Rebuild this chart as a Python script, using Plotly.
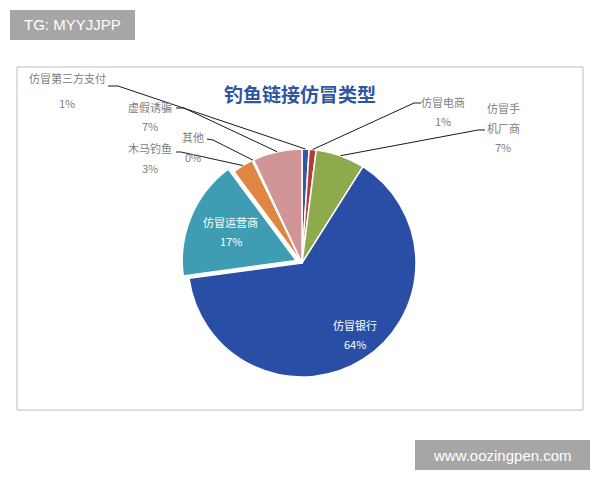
import math
import plotly.graph_objects as go

# ---- data ----
categories = ["仿冒第三方支付", "仿冒电商", "仿冒手机厂商", "仿冒银行", "仿冒运营商", "木马钓鱼", "其他", "虚假诱骗"]
label_rows = [["仿冒第三方支付"], ["仿冒电商"], ["仿冒手", "机厂商"], ["仿冒银行"], ["仿冒运营商"],
              ["木马钓鱼"], ["其他"], ["虚假诱骗"]]
values = [1, 1, 7, 64, 17, 3, 0.2, 7]
colors = ["#3557A0", "#B23C3C", "#8EAA4C", "#2A4EA6", "#3E9DB2", "#DE8642", "#7E62A2", "#D19595"]
pulls = [0, 0, 0, 0, 0.055, 0, 0, 0]

W, H = 600, 480
OFF = 8                              # page body margin of the browser
CX, CY, R = 302, 263, 114            # pie centre / radius in screen pixels
half = R * (1 + max(pulls))

def px(x):
    return (x - OFF) / W

def py(y):
    return 1 - (y - OFF) / H

fig = go.Figure()
fig.add_trace(go.Pie(
    labels=categories, values=values, sort=False, direction="clockwise",
    rotation=0, pull=pulls, textinfo="none", hoverinfo="label+percent",
    marker=dict(colors=colors, line=dict(color="white", width=1.5)),
    domain=dict(x=[px(CX - half), px(CX + half)], y=[py(CY + half), py(CY - half)]),
    showlegend=False,
))

total = sum(values)
pcts = [f"{round(v / total * 100):d}%" for v in values]
cum = 0
mids = []
for v in values:
    mids.append((cum + v / 2) / total * 2 * math.pi)
    cum += v

def edge(i, rr=1.0):
    a = mids[i]
    extra = pulls[i] * R
    return (CX + (R * rr + extra) * math.sin(a), CY - (R * rr + extra) * math.cos(a))

annotations = []
shapes = []

def text_at(x, y, t, size=11, color="#808080"):
    annotations.append(dict(x=px(x), y=py(y), xref="paper", yref="paper", text=t, showarrow=False,
                            font=dict(size=size, color=color, family="Noto Sans CJK SC"),
                            xanchor="center", yanchor="middle"))

# outside labels: (index, first label row centre, pct centre, leader start, elbow)
outside = [
    (0, (67, 78), (67, 103), (108, 86), (118, 86)),
    (7, (150, 107), (150, 126), (176, 108), (184, 108)),
    (6, (193, 137), (193, 157), (207, 139), (213, 140)),
    (5, (150, 148), (150, 168), (176, 152), (181, 152)),
    (1, (443, 102), (443, 121), (421, 103), (414, 103)),
    (2, (503, 108), (503, 147), (485, 130), (478, 130)),
]
for i, lc, pc, s, e in outside:
    for k, row in enumerate(label_rows[i]):
        text_at(lc[0], lc[1] + 20 * k, row)
    text_at(pc[0], pc[1], pcts[i])
    ex, ey = edge(i)
    path = f"M {px(s[0])},{py(s[1])} L {px(e[0])},{py(e[1])} L {px(ex)},{py(ey)}"
    shapes.append(dict(type="path", xref="paper", yref="paper", path=path,
                       line=dict(color="#1a1a1a", width=1)))

# inside labels
for i, rr in [(3, 0.8), (4, 0.66)]:
    x, y = edge(i, rr)
    text_at(x + 4, y - 9 - (6 if i == 3 else 0), label_rows[i][0], size=11, color="white")
    text_at(x + 4, y + 10 - (6 if i == 3 else 0), pcts[i], size=11, color="white")

# title
text_at(300, 93, "<b>钓鱼链接仿冒类型</b>", size=19, color="#2E55A2")

# chart frame
shapes.append(dict(type="rect", xref="paper", yref="paper", x0=px(17), x1=px(583), y0=py(410), y1=py(67),
                   line=dict(color="#BDBDBD", width=1), layer="below"))

# watermark boxes
shapes.append(dict(type="rect", xref="paper", yref="paper", x0=px(10), x1=px(135), y0=py(40), y1=py(10),
                   line=dict(width=0), fillcolor="#A6A6A6"))
annotations.append(dict(x=px(72.5), y=py(25), xref="paper", yref="paper", text="TG: MYYJJPP", showarrow=False,
                        font=dict(size=15, color="white", family="Liberation Sans"), xanchor="center", yanchor="middle"))
shapes.append(dict(type="rect", xref="paper", yref="paper", x0=px(415), x1=px(590), y0=py(470), y1=py(440),
                   line=dict(width=0), fillcolor="#A6A6A6"))
annotations.append(dict(x=px(502.5), y=py(455), xref="paper", yref="paper", text="www.oozingpen.com", showarrow=False,
                        font=dict(size=15, color="white", family="Liberation Sans"), xanchor="center", yanchor="middle"))

fig.update_layout(width=W, height=H, margin=dict(l=0, r=0, t=0, b=0),
                  paper_bgcolor="white", plot_bgcolor="white",
                  annotations=annotations, shapes=shapes)
fig.write_html("out.html")
